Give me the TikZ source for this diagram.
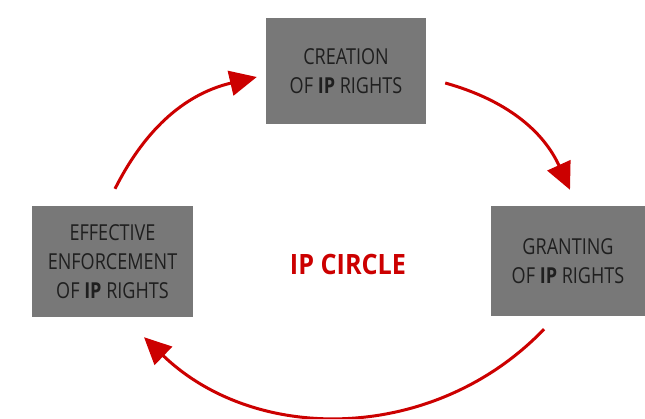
\documentclass[tikz,border=0pt]{standalone}
\usepackage{fontspec}
\usepackage{tikz}
\usetikzlibrary{arrows.meta,calc}

\newfontfamily\boxfont{Open Sans}[FakeStretch=0.82]
\newfontfamily\titlefont{Open Sans}[FakeStretch=0.9]
\definecolor{ipred}{RGB}{204,0,0}
\definecolor{boxgray}{RGB}{120,120,120}

\begin{document}
\begin{tikzpicture}[x=1pt, y=1pt,
  ipbox/.style={fill=boxgray, text=black!88, align=center, inner sep=0pt,
    font=\boxfont\fontsize{22}{29}\selectfont},
  cyc/.style={ipred, line width=3pt, -{Triangle[length=27pt, width=25pt]}}]

\useasboundingbox[fill=white] (0, 0) rectangle (645, 418);

\node[ipbox, minimum width=160pt, minimum height=106pt] (creation) at (346, 347) {CREATION\\OF \textbf{IP} RIGHTS};
\node[ipbox, minimum width=154pt, minimum height=110pt] (granting) at (568, 157) {GRANTING\\OF \textbf{IP} RIGHTS};
\node[ipbox, minimum width=161pt, minimum height=111pt] (enforcement) at (112.5, 156.5) {EFFECTIVE\\ENFORCEMENT\\OF \textbf{IP} RIGHTS};

\node[text=ipred, font=\titlefont\bfseries\fontsize{28}{30}\selectfont] (title) at (348, 154) {IP CIRCLE};

\coordinate (c1) at ($(enforcement.north) + (2.5, 17)$);
\coordinate (c2) at ($(creation.west) + (-9, -6)$);
\coordinate (c3) at ($(creation.east) + (19, -12)$);
\coordinate (c4) at ($(granting.north) + (2, 16)$);
\coordinate (c5) at ($(granting.south) + (-24, -13)$);
\coordinate (c6) at ($(enforcement.south) + (31.5, -20)$);

\draw[cyc] (c1) to[bend left=25] (c2);
\draw[cyc] (c3) to[bend left=25] (c4);
\draw[cyc] (c5) to[bend left=45] (c6);

\end{tikzpicture}
\end{document}
